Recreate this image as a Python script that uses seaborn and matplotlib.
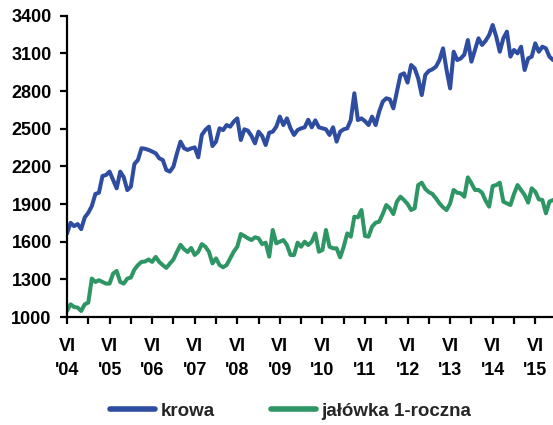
import numpy as np
import pandas as pd
import matplotlib
matplotlib.use("Agg")
import matplotlib.pyplot as plt
import seaborn as sns

# ---- data (monthly, June 2004 onwards) ----
series_names = ["krowa", "jałówka 1-roczna"]
krowa = [
    1665, 1750, 1724, 1740, 1700, 1793, 1830, 1884, 1980, 1990,
    2123, 2131, 2158, 2091, 2025, 2158, 2113, 2011, 2038, 2219,
    2251, 2344, 2340, 2331, 2318, 2304, 2264, 2251, 2171, 2158,
    2198, 2304, 2397, 2344, 2331, 2343, 2351, 2272, 2450, 2490,
    2516, 2362, 2397, 2503, 2489, 2529, 2516, 2556, 2582, 2410,
    2495, 2484, 2442, 2383, 2476, 2442, 2370, 2468, 2476, 2516,
    2596, 2529, 2582, 2503, 2450, 2489, 2503, 2511, 2571, 2511,
    2566, 2511, 2503, 2495, 2450, 2511, 2397, 2476, 2495, 2503,
    2569, 2782, 2569, 2582, 2560, 2529, 2596, 2529, 2636, 2715,
    2742, 2734, 2662, 2795, 2928, 2941, 2867, 3007, 2981, 2901,
    2768, 2928, 2960, 2973, 2994, 3047, 3140, 2967, 2821, 3113,
    3047, 3060, 3090, 3206, 3034, 3127, 3220, 3167, 3200, 3246,
    3326, 3233, 3113, 3220, 3273, 3074, 3127, 3100, 3153, 2967,
    3060, 3074, 3180, 3113, 3153, 3140, 3074, 3047,
]
jalowka = [
    1048, 1101, 1080, 1075, 1048, 1101, 1115, 1306, 1279, 1293,
    1279, 1266, 1266, 1346, 1367, 1279, 1266, 1306, 1314, 1378,
    1413, 1439, 1442, 1458, 1439, 1479, 1439, 1413, 1391, 1426,
    1458, 1519, 1575, 1540, 1518, 1550, 1494, 1520, 1581, 1560,
    1520, 1427, 1467, 1414, 1396, 1414, 1467, 1520, 1560, 1661,
    1645, 1627, 1613, 1635, 1627, 1581, 1592, 1481, 1693, 1587,
    1600, 1613, 1573, 1494, 1494, 1592, 1560, 1600, 1573, 1600,
    1666, 1520, 1534, 1693, 1560, 1547, 1547, 1475, 1560, 1666,
    1640, 1799, 1794, 1852, 1645, 1640, 1720, 1751, 1759, 1820,
    1892, 1866, 1820, 1919, 1958, 1932, 1900, 1852, 1866, 2051,
    2070, 2020, 1995, 1980, 1945, 1905, 1874, 1852, 1905, 2012,
    1990, 1985, 1958, 2112, 2065, 2012, 2012, 1990, 1927, 1879,
    2043, 2051, 2070, 1919, 1905, 1892, 1980, 2051, 2012, 1972,
    1911, 2025, 1998, 1937, 1932, 1826, 1919, 1932,
]
month_label = "VI"
year_labels = ["'04", "'05", "'06", "'07", "'08", "'09", "'10", "'11",
               "'12", "'13", "'14", "'15"]
y_ticks = [1000, 1300, 1600, 1900, 2200, 2500, 2800, 3100, 3400]
colors = ["#2E4DA0", "#2E9664"]

n = len(krowa)
month = np.arange(n)
df = pd.DataFrame({
    "miesiac": np.concatenate([month, month]),
    "cena": krowa + jalowka,
    "seria": [series_names[0]] * n + [series_names[1]] * n,
})

sns.set_style("ticks")
plt.rcParams["font.family"] = ["Liberation Sans", "DejaVu Sans"]
plt.rcParams["font.weight"] = "bold"

W, H = 553, 425
fig = plt.figure(figsize=(W / 100, H / 100), dpi=100)
left, right, top, bottom = 67, 553, 15.7, 317
ax = fig.add_axes([left / W, 1 - bottom / H, (right - left) / W, (bottom - top) / H])

sns.lineplot(data=df, x="miesiac", y="cena", hue="seria",
             palette=colors, linewidth=2.9, ax=ax)
handles, labels = ax.get_legend_handles_labels()
ax.get_legend().remove()

ax.set_xlim(0, n - 1)
ax.set_ylim(y_ticks[0], y_ticks[-1])
ax.set_yticks(y_ticks)
ax.set_yticklabels([str(v) for v in y_ticks])

xt = np.arange(0, n, 6)
xlabels = []
for i, _ in enumerate(xt):
    if i % 2 == 0 and i // 2 < len(year_labels):
        xlabels.append(f"{month_label}\n{year_labels[i // 2]}")
    else:
        xlabels.append("")
ax.set_xticks(xt)
ax.set_xticklabels(xlabels, linespacing=1.55)

ax.set_xlabel("")
ax.set_ylabel("")
for s in ["top", "right"]:
    ax.spines[s].set_visible(False)
for s in ["left", "bottom"]:
    ax.spines[s].set_linewidth(1.6)
    ax.spines[s].set_color("black")
ax.tick_params(axis="both", direction="out", length=5, width=1.6,
               colors="black", labelsize=13)
ax.tick_params(axis="y", pad=6)
ax.tick_params(axis="x", pad=10)
for t in ax.get_xticklabels() + ax.get_yticklabels():
    t.set_fontweight("bold")

for h in handles:
    h.set_linewidth(4)
fig.legend(handles, labels, loc="center", bbox_to_anchor=(290.5 / W, 1 - 411 / H),
           ncol=2, frameon=False, prop={"size": 13.5, "weight": "bold"},
           handlelength=2.4, handletextpad=0.3, columnspacing=3.0,
           borderpad=0, borderaxespad=0)

fig.savefig("out.png", dpi=100)
